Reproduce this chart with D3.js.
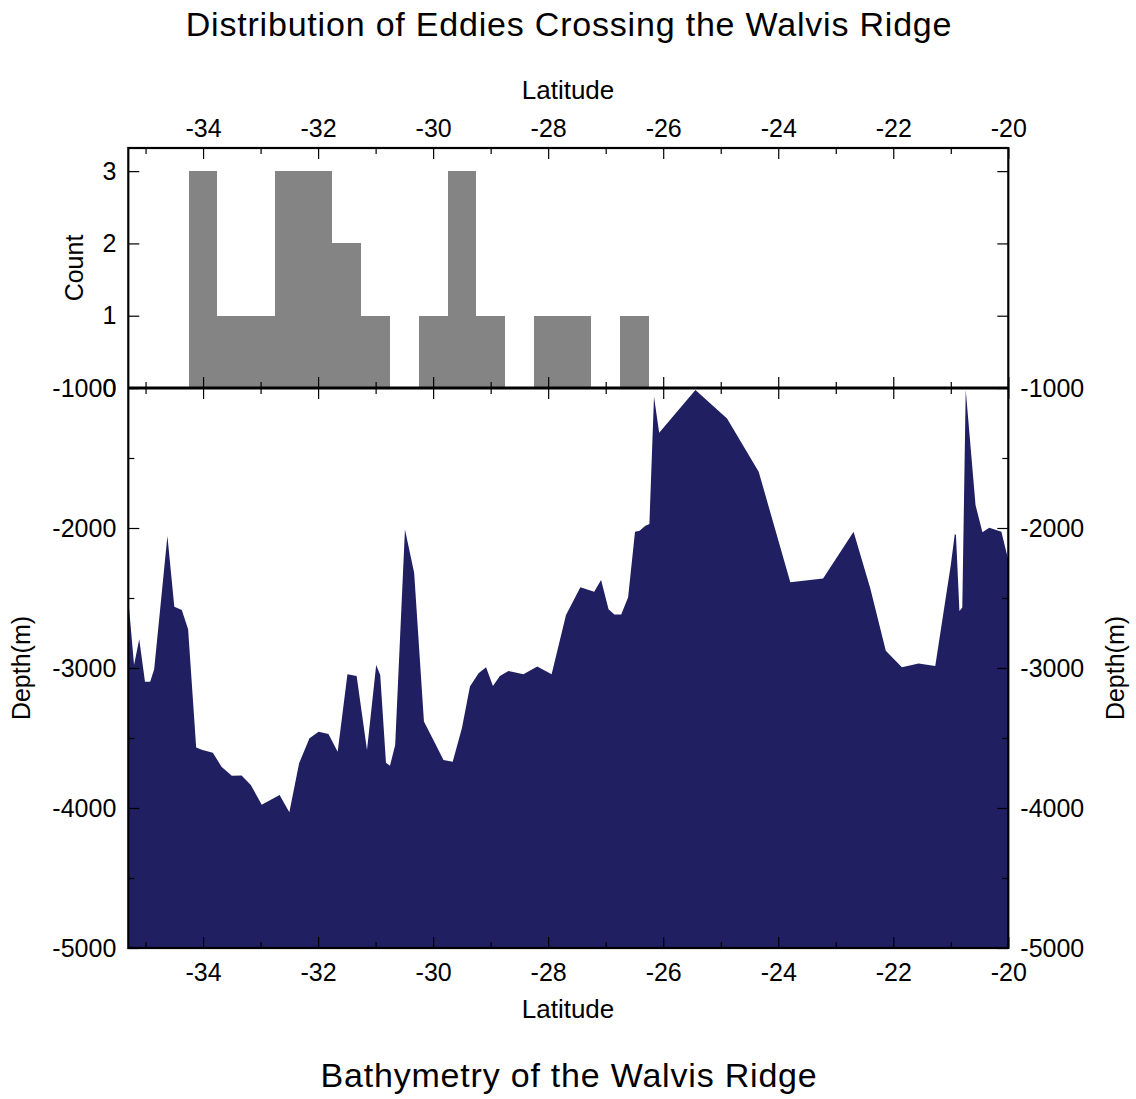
<!DOCTYPE html>
<html>
<head>
<meta charset="utf-8">
<script src="https://cdn.jsdelivr.net/npm/d3@7"></script>
<style>
  body { margin: 0; background: #fff; }
  text { font-family: "Liberation Sans", Arial, sans-serif; fill: #000; }
</style>
</head>
<body>
<svg id="chart"></svg>
<script>
var width = 1136,
    height = 1099;

// Histogram of eddy crossings: bin centres (latitude) and counts, bins 0.5 wide
var binCentres = [-34, -33.5, -33, -32.5, -32, -31.5, -31, -30.5, -30, -29.5, -29, -28.5, -28, -27.5, -27, -26.5];
var binCounts  = [3, 1, 1, 3, 3, 2, 1, 0, 1, 3, 1, 0, 1, 1, 0, 1];

// Bathymetry profile along the ridge
var bathyLat = [-35.30, -35.20, -35.11, -35.01, -34.92, -34.85, -34.62, -34.50, -34.37, -34.26,
                -34.12, -34.01, -33.83, -33.68, -33.50, -33.33, -33.17, -32.98, -32.67, -32.50,
                -32.33, -32.15, -31.99, -31.82, -31.66, -31.49, -31.33, -31.15, -30.99, -30.92,
                -30.82, -30.75, -30.66, -30.49, -30.33, -30.16, -30.00, -29.82, -29.66, -29.50,
                -29.36, -29.21, -29.08, -28.96, -28.84, -28.69, -28.43, -28.19, -27.94, -27.69,
                -27.44, -27.20, -27.08, -26.95, -26.85, -26.73, -26.61, -26.49, -26.41, -26.31,
                -26.24, -26.16, -26.07, -25.44, -24.89, -24.34, -23.79, -23.22, -22.69, -22.40,
                -22.13, -21.85, -21.56, -21.27, -21.00, -20.93, -20.91, -20.85, -20.80, -20.74,
                -20.57, -20.45, -20.33, -20.12, -20.00];
var bathyDepth = [-2510, -2979, -2795, -3098, -3098, -3009, -2057, -2562, -2586, -2724,
                  -3567, -3586, -3605, -3705, -3769, -3767, -3836, -3976, -3907, -4031,
                  -3681, -3502, -3455, -3471, -3598, -3045, -3057, -3586, -2979, -3050,
                  -3676, -3698, -3550, -2010, -2319, -3383, -3510, -3657, -3669, -3431,
                  -3133, -3038, -2995, -3129, -3057, -3021, -3045, -2990, -3045, -2621,
                  -2424, -2455, -2371, -2581, -2617, -2617, -2495, -2026, -2019, -1984,
                  -1971, -1062, -1319, -1014, -1217, -1598, -2388, -2360, -2026, -2431,
                  -2876, -2995, -2967, -2986, -2264, -2043, -2050, -2593, -2567, -1014,
                  -1836, -2031, -1998, -2026, -2229];

var latTicks = [-34, -32, -30, -28, -26, -24, -22, -20];
var latMinor = [-35, -33, -31, -29, -27, -25, -23, -21];
var countTicks = [0, 1, 2, 3];
var depthTicks = [-5000, -4000, -3000, -2000, -1000];
var depthMinor = [-4500, -3500, -2500, -1500];

var left = 128.3, right = 1008.3,
    topY = 148, midY = 388, bottomY = 948;

var x = d3.scaleLinear().domain([-35.3, -20]).range([left, right]);
var yCount = d3.scaleLinear().domain([0, 3.32]).range([midY, topY]);
var yDepth = d3.scaleLinear().domain([-5000, -1000]).range([bottomY, midY]);

var fmt = function (d) { return String(d); };

var svg = d3.select('#chart')
    .attr('width', width)
    .attr('height', height);

// Titles
svg.append('text')
    .attr('x', 569).attr('y', 36)
    .attr('text-anchor', 'middle')
    .style('font-size', '34px')
    .style('letter-spacing', '0.8px')
    .text('Distribution of Eddies Crossing the Walvis Ridge');

svg.append('text')
    .attr('x', 569).attr('y', 1087)
    .attr('text-anchor', 'middle')
    .style('font-size', '34px')
    .style('letter-spacing', '0.8px')
    .text('Bathymetry of the Walvis Ridge');

// Histogram bars (crisp edges so neighbouring bins merge without seams)
svg.append('g')
    .attr('shape-rendering', 'crispEdges')
    .selectAll('rect')
    .data(binCentres.map(function (c, i) { return {c: c, n: binCounts[i]}; }).filter(function (d) { return d.n > 0; }))
    .enter().append('rect')
    .attr('x', function (d) { return Math.round(x(d.c - 0.25)); })
    .attr('width', function (d) { return Math.round(x(d.c + 0.25)) - Math.round(x(d.c - 0.25)); })
    .attr('y', function (d) { return Math.round(yCount(d.n)); })
    .attr('height', function (d) { return Math.round(yCount(0)) - Math.round(yCount(d.n)); })
    .style('fill', '#848484');

// Bathymetry area
var area = d3.area()
    .x(function (d) { return x(d[0]); })
    .y0(yDepth(-5000))
    .y1(function (d) { return yDepth(d[1]); });

svg.append('path')
    .datum(bathyLat.map(function (l, i) { return [l, bathyDepth[i]]; }))
    .attr('d', area)
    .style('fill', '#1f1f61');

// Axis helper
function drawAxis(axis, tx, ty, fontSize) {
    var g = svg.append('g')
        .attr('transform', 'translate(' + tx + ',' + ty + ')')
        .call(axis);
    g.select('.domain').remove();
    g.selectAll('line').style('stroke', '#000').style('stroke-width', 1.2);
    g.selectAll('text').style('font-size', fontSize || '25px').style('font-family', '"Liberation Sans", Arial, sans-serif').attr('fill', '#000');
    return g;
}

// ---- Top panel axes ----
drawAxis(d3.axisTop(x).tickValues(latTicks).tickFormat(fmt).tickSizeInner(-11).tickSizeOuter(0).tickPadding(11), 0, topY);
drawAxis(d3.axisTop(x).tickValues(latMinor).tickFormat('').tickSizeInner(-6).tickSizeOuter(0), 0, topY);
drawAxis(d3.axisBottom(x).tickValues(latTicks).tickFormat('').tickSizeInner(-11).tickSizeOuter(0), 0, midY);
drawAxis(d3.axisBottom(x).tickValues(latMinor).tickFormat('').tickSizeInner(-6).tickSizeOuter(0), 0, midY);
drawAxis(d3.axisLeft(yCount).tickValues(countTicks).tickFormat(fmt).tickSizeInner(-11).tickSizeOuter(0).tickPadding(12), left, 0);
drawAxis(d3.axisRight(yCount).tickValues(countTicks.slice(1)).tickFormat('').tickSizeInner(-11).tickSizeOuter(0), right, 0);

// ---- Bottom panel axes ----
drawAxis(d3.axisTop(x).tickValues(latTicks).tickFormat('').tickSizeInner(-11).tickSizeOuter(0), 0, midY);
drawAxis(d3.axisTop(x).tickValues(latMinor).tickFormat('').tickSizeInner(-6).tickSizeOuter(0), 0, midY);
drawAxis(d3.axisBottom(x).tickValues(latTicks).tickFormat(fmt).tickSizeInner(-11).tickSizeOuter(0).tickPadding(15), 0, bottomY);
drawAxis(d3.axisBottom(x).tickValues(latMinor).tickFormat('').tickSizeInner(-6).tickSizeOuter(0), 0, bottomY);
drawAxis(d3.axisLeft(yDepth).tickValues(depthTicks).tickFormat(fmt).tickSizeInner(-11).tickSizeOuter(0).tickPadding(12), left, 0);
drawAxis(d3.axisLeft(yDepth).tickValues(depthMinor).tickFormat('').tickSizeInner(-6).tickSizeOuter(0), left, 0);
drawAxis(d3.axisRight(yDepth).tickValues(depthTicks).tickFormat(fmt).tickSizeInner(-11).tickSizeOuter(0).tickPadding(12), right, 0);
drawAxis(d3.axisRight(yDepth).tickValues(depthMinor).tickFormat('').tickSizeInner(-6).tickSizeOuter(0), right, 0);

// Frames
svg.append('rect')
    .attr('x', left).attr('y', topY)
    .attr('width', right - left).attr('height', bottomY - topY)
    .style('fill', 'none').style('stroke', '#000').style('stroke-width', 2.2);
svg.append('line')
    .attr('x1', left).attr('x2', right)
    .attr('y1', midY).attr('y2', midY)
    .style('stroke', '#000').style('stroke-width', 3);

// Axis titles
svg.append('text')
    .attr('x', 568).attr('y', 99)
    .attr('text-anchor', 'middle')
    .style('font-size', '26px')
    .text('Latitude');
svg.append('text')
    .attr('x', 568).attr('y', 1018)
    .attr('text-anchor', 'middle')
    .style('font-size', '26px')
    .text('Latitude');
svg.append('text')
    .attr('transform', 'translate(83,268) rotate(-90)')
    .attr('text-anchor', 'middle')
    .style('font-size', '25px')
    .text('Count');
svg.append('text')
    .attr('transform', 'translate(30,668) rotate(-90)')
    .attr('text-anchor', 'middle')
    .style('font-size', '25px')
    .text('Depth(m)');
svg.append('text')
    .attr('transform', 'translate(1124,668) rotate(-90)')
    .attr('text-anchor', 'middle')
    .style('font-size', '25px')
    .text('Depth(m)');
</script>
</body>
</html>
